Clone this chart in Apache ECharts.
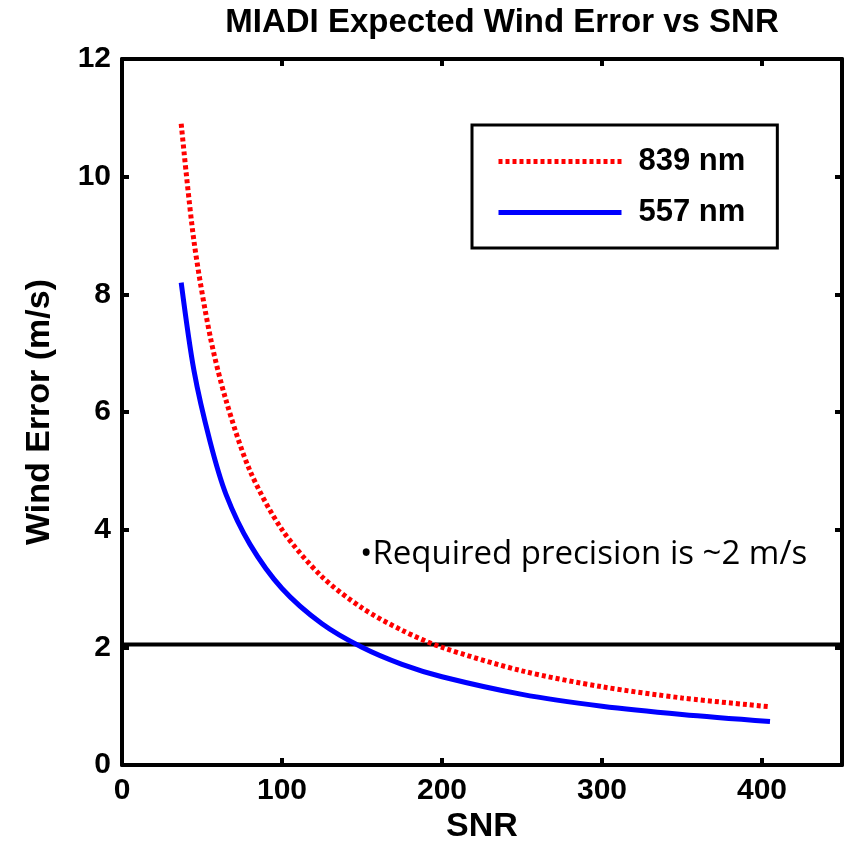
<!DOCTYPE html>
<html>
<head>
<meta charset="utf-8">
<script src="https://cdn.jsdelivr.net/npm/echarts@6/dist/echarts.min.js"></script>
<style>html,body{margin:0;padding:0;background:#fff}#c{width:847px;height:846px}</style>
</head>
<body>
<div id="c"></div>
<script>
// Data
var snr      = [37, 45, 55, 65, 80, 100, 125, 150, 175, 200, 250, 300, 350, 405];
var err839   = [10.9, 8.9, 7.3, 6.2, 5.0, 4.0, 3.2, 2.67, 2.29, 2.0, 1.6, 1.33, 1.14, 0.99];
var err557   = [8.2, 6.7, 5.5, 4.6, 3.75, 3.0, 2.4, 2.0, 1.71, 1.5, 1.2, 1.0, 0.86, 0.74];
var reqX     = [0, 450];
var reqY     = [2.05, 2.05];
var xTicks   = [0, 100, 200, 300, 400];
var yTicks   = [0, 2, 4, 6, 8, 10, 12];
var titleText = 'MIADI Expected Wind Error vs SNR';
var xName     = 'SNR';
var yName     = 'Wind Error (m/s)';
var noteText  = '\u2022Required precision is ~2 m/s';
var seriesNames = ['839 nm', '557 nm'];

function pairs(xs, ys){ return xs.map(function(x,i){ return [x, ys[i]]; }); }

var bold = 'Liberation Sans';
var axisCommon = {
  axisLine: {show: true, onZero: false, lineStyle: {color: '#000', width: 4}},
  axisTick: {show: true, inside: true, length: 7, lineStyle: {color: '#000', width: 4}},
  splitLine: {show: false}
};

var chart = echarts.init(document.getElementById('c'));
chart.setOption({
  animation: false,
  backgroundColor: '#fff',
  title: {
    text: titleText, left: 497, top: 1, textAlign: 'center',
    textStyle: {fontFamily: bold, fontWeight: 'bold', fontSize: 33, color: '#000'}
  },
  grid: {left: 122, right: 5, top: 59, bottom: 81},
  legend: {
    data: seriesNames, orient: 'vertical', left: 472, top: 125,
    borderColor: '#000', borderWidth: 3, padding: [21, 32, 20, 24],
    itemWidth: 123, itemHeight: 14, itemGap: 20,
    itemStyle: {opacity: 0},
    lineStyle: {width: 5},
    textStyle: {fontFamily: bold, fontWeight: 'bold', fontSize: 31, color: '#000', padding: [0, 0, 0, 12]}
  },
  xAxis: [
    Object.assign({type: 'value', position: 'bottom', min: 0, max: 450, interval: 100,
      axisLabel: {fontFamily: bold, fontWeight: 'bold', fontSize: 30, color: '#000', margin: 11,
        formatter: function(v){ return xTicks.indexOf(v) >= 0 ? String(v) : ''; }}
    }, axisCommon),
    Object.assign({type: 'value', position: 'top', min: 0, max: 450, interval: 100,
      axisLabel: {show: false}}, axisCommon)
  ],
  yAxis: [
    Object.assign({type: 'value', position: 'left', min: 0, max: 12, interval: 2,
      name: yName, nameLocation: 'middle', nameGap: 65,
      nameTextStyle: {fontFamily: bold, fontWeight: 'bold', fontSize: 34, color: '#000'},
      axisLabel: {fontFamily: bold, fontWeight: 'bold', fontSize: 30, color: '#000', margin: 11,
        formatter: function(v){ return yTicks.indexOf(v) >= 0 ? String(v) : ''; }}
    }, axisCommon),
    Object.assign({type: 'value', position: 'right', min: 0, max: 12, interval: 2,
      axisLabel: {show: false}}, axisCommon)
  ],
  series: [
    {
      name: seriesNames[0], type: 'line', data: pairs(snr, err839), smooth: 0.3,
      symbol: 'none', lineStyle: {color: '#ff0000', width: 5, type: [4, 3]},
      itemStyle: {color: '#ff0000'}, z: 3
    },
    {
      name: seriesNames[1], type: 'line', data: pairs(snr, err557), smooth: 0.3,
      symbol: 'none', lineStyle: {color: '#0000ff', width: 5},
      itemStyle: {color: '#0000ff'}, z: 3
    },
    {
      name: 'req', type: 'line', data: pairs(reqX, reqY), symbol: 'none',
      lineStyle: {color: '#000', width: 4}, z: 2, silent: true
    }
  ],
  graphic: [
    {type: 'text', left: 360, top: 538,
      style: {text: noteText, font: '33px "Open Sans"', fill: '#000'}},
    {type: 'text', x: 482, y: 827,
      style: {text: xName, font: 'bold 34px "Liberation Sans"', fill: '#000',
        align: 'center', verticalAlign: 'middle'}}
  ]
});
</script>
</body>
</html>
